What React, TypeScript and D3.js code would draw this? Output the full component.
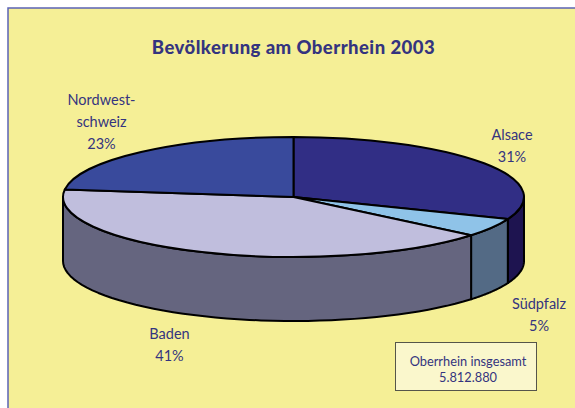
import React from "react";
import * as d3 from "d3";

const regions = ["Alsace", "Südpfalz", "Baden", "Nordwest-schweiz"];
const shares = [31, 5, 41, 23];
const topColors = ["#312E85", "#8FC3E8", "#C0BEDD", "#394A9C"];
const sideColors = ["#1E1450", "#536A85", "#65657F", "#394A9C"];
const labelLines = [
  { lines: ["Alsace", "31%"], x: 512, y: 140 },
  { lines: ["Südpfalz", "5%"], x: 539, y: 309 },
  { lines: ["Baden", "41%"], x: 169.5, y: 339 },
  { lines: ["Nordwest-", "schweiz", "23%"], x: 101.5, y: 105 },
];
const title = "Bevölkerung am Oberrhein 2003";
const totalLabel = "Oberrhein insgesamt";
const totalValue = "5.812.880";

const W = 575, H = 408;
const cx = 293.5, cy = 197, rx = 230.5, ry = 60, depth = 64;
const ink = "#34347F";
const font = "Lato, 'Open Sans', sans-serif";

const px = (a: number) => cx + rx * Math.sin(a);
const py = (a: number) => cy - ry * Math.cos(a);

export default function App() {
  const arcs = d3.pie<number>().sort(null).value((d) => d)(shares);
  const arcGen = d3.arc<d3.PieArcDatum<number>>().innerRadius(0).outerRadius(rx);

  // Walls: only the near half of the rim (π/2 to 3π/2) is visible.
  const walls = arcs
    .map((a, i) => {
      const s = Math.max(a.startAngle, Math.PI / 2);
      const e = Math.min(a.endAngle, (3 * Math.PI) / 2);
      if (e <= s) return null;
      const p = d3.path();
      p.moveTo(px(s), py(s));
      const n = 48;
      for (let k = 1; k <= n; k++) {
        const t = s + ((e - s) * k) / n;
        p.lineTo(px(t), py(t));
      }
      p.lineTo(px(e), py(e) + depth);
      for (let k = n - 1; k >= 0; k--) {
        const t = s + ((e - s) * k) / n;
        p.lineTo(px(t), py(t) + depth);
      }
      p.closePath();
      return <path key={regions[i]} d={p.toString()} fill={sideColors[i]} stroke="#000" strokeWidth={2} strokeLinejoin="round" />;
    });

  return (
    <svg width={W} height={H} style={{ position: "absolute", left: 0, top: 0, display: "block" }}>
      <rect width={W} height={H} fill="#fff" />
      <rect x={8} y={8} width={W} height={H} fill="#F5EF96" stroke="#5B63B5" strokeWidth={1.5} />
      <text x={293.5} y={54} textAnchor="middle" fontFamily={font} fontWeight={900} fontSize={18.5} letterSpacing={0.45} fill={ink}>{title}</text>
      {walls}
      <g transform={`translate(${cx},${cy}) scale(1,${ry / rx})`}>
        {arcs.map((a, i) => (
          <path key={regions[i]} d={arcGen(a) ?? ""} fill={topColors[i]} stroke="#000" strokeWidth={2} strokeLinejoin="round" style={{ vectorEffect: "non-scaling-stroke" }} />
        ))}
      </g>
      {labelLines.map((l) => (
        <text key={l.lines[0]} textAnchor="middle" fontFamily={font} fontSize={14.5} fill={ink}>
          {l.lines.map((t, j) => (
            <tspan key={t} x={l.x} y={l.y + j * 22}>{t}</tspan>
          ))}
        </text>
      ))}
      <rect x={395.5} y={342.5} width={141} height={48} fill="#FAF7CC" stroke="#55554A" strokeWidth={1} />
      <text textAnchor="middle" fontFamily={font} fontSize={12.8} fill={ink}>
        <tspan x={468} y={366}>{totalLabel}</tspan>
        <tspan x={468} y={382}>{totalValue}</tspan>
      </text>
    </svg>
  );
}
